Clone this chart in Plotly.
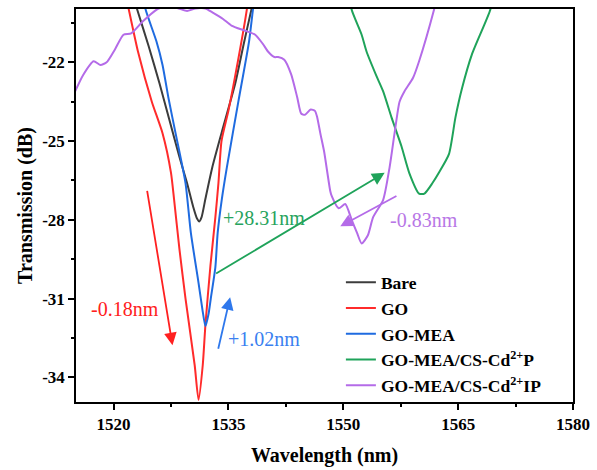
import plotly.graph_objects as go

# Transmission spectra (wavelength in nm, transmission in dB)
bare_x = [1522.6, 1523.1, 1524.6, 1526.0, 1527.3, 1528.6, 1529.6, 1530.4, 1530.9, 1531.2,
          1531.5, 1532.0, 1532.9, 1534.1, 1535.9, 1537.0, 1538.0, 1538.4]
bare_y = [-19.5, -20.0, -21.4, -22.8, -24.2, -25.6, -26.6, -27.5, -27.95, -28.06,
          -27.9, -27.2, -26.0, -24.7, -22.8, -21.3, -20.0, -19.5]

go_x = [1521.6, 1522.0, 1523.2, 1525.0, 1526.4, 1527.5, 1527.9, 1528.6, 1529.4, 1530.6,
        1531.1, 1531.65, 1532.0, 1532.65, 1533.3, 1533.7, 1534.1, 1535.0, 1535.9, 1537.4, 1537.6]
go_y = [-19.5, -20.0, -21.6, -23.5, -24.7, -26.2, -27.2, -29.1, -31.0, -33.54,
        -34.86, -33.54, -32.0, -29.76, -27.9, -26.6, -25.0, -23.85, -22.5, -20.0, -19.5]

gomea_x = [1523.9, 1524.2, 1525.6, 1526.4, 1527.2, 1528.1, 1529.4, 1530.1, 1531.1, 1531.6,
           1532.0, 1532.4, 1532.7, 1533.3, 1533.6, 1534.15, 1534.8, 1536.3, 1537.7, 1538.2, 1538.4]
gomea_y = [-19.5, -20.0, -21.2, -22.1, -23.4, -24.7, -26.6, -28.5, -30.4, -31.4,
           -32.05, -31.6, -31.0, -29.8, -28.5, -27.2, -26.0, -23.5, -21.2, -20.0, -19.5]

p_x = [1550.9, 1551.1, 1552.4, 1553.05, 1554.3, 1555.2, 1556.3, 1557.6, 1558.6, 1559.9,
       1560.6, 1561.65, 1562.5, 1563.8, 1564.65, 1565.5, 1566.8, 1569.2, 1569.4]
p_y = [-19.5, -20.0, -20.95, -21.6, -22.5, -23.1, -24.1, -25.2, -26.2, -27.0,
       -27.0, -26.6, -26.2, -25.5, -24.1, -23.0, -21.7, -20.0, -19.6]

ip_x = [1515.0, 1516.0, 1517.4, 1518.3, 1519.1, 1520.2, 1521.3, 1522.3, 1523.8, 1525.6,
        1527.0, 1528.5, 1529.6, 1530.7, 1532.0, 1532.9, 1534.3, 1535.4, 1537.2, 1538.5,
        1539.5, 1540.2, 1541.0, 1541.5, 1542.3, 1543.2, 1544.0, 1544.5, 1545.0, 1545.75,
        1546.3, 1546.6, 1547.0, 1547.5, 1548.3, 1548.5, 1549.4, 1550.26, 1551.1, 1551.8,
        1552.4, 1553.2, 1553.9, 1555.2, 1556.05, 1556.7, 1557.35, 1558.0, 1559.1, 1559.9,
        1561.85, 1562.1]
ip_y = [-23.1, -22.5, -21.96, -22.1, -22.0, -21.5, -20.95, -20.9, -20.45, -20.0,
        -19.85, -19.95, -20.05, -19.95, -19.95, -20.1, -20.35, -20.6, -20.8, -20.95,
        -21.3, -21.6, -21.8, -21.8, -21.9, -22.46, -23.35, -23.95, -24.0, -23.8,
        -23.85, -24.1, -24.7, -25.4, -26.9, -27.1, -27.56, -27.4, -28.0, -28.5,
        -28.9, -28.6, -27.9, -27.25, -26.0, -24.7, -23.5, -23.1, -22.6, -21.96,
        -20.0, -19.7]

series_names = ["Bare", "GO", "GO-MEA",
                "GO-MEA/CS-Cd<sup>2+</sup>P", "GO-MEA/CS-Cd<sup>2+</sup>IP"]
series_x = [bare_x, go_x, gomea_x, p_x, ip_x]
series_y = [bare_y, go_y, gomea_y, p_y, ip_y]
series_colors = ["#3c3c3c", "#ff2b2b", "#1f6be0", "#1fa35a", "#b46be8"]

# Axis ticks
x_ticks = [1520, 1535, 1550, 1565, 1580]
x_minor = [1527.5, 1542.5, 1557.5, 1572.5]
y_ticks = [-22, -25, -28, -31, -34]
y_tick_text = ["-22", "-25", "-28", "-31", "-34"]
y_minor = [-20.5, -23.5, -26.5, -29.5, -32.5]

# Shift arrows: (tail x, tail y, head x, head y) and their labels
shift_labels = ["-0.18nm", "+1.02nm", "+28.31nm", "-0.83nm"]
shift_tail_x = [1524.36, 1533.63, 1533.2, 1557.14]
shift_tail_y = [-26.84, -32.97, -30.08, -27.06]
shift_head_x = [1527.7, 1535.23, 1555.41, 1549.61]
shift_head_y = [-32.78, -30.95, -26.21, -28.25]
label_x = [1521.5, 1539.65, 1539.6, 1560.5]
label_y = [-31.4, -32.53, -27.92, -28.0]
arrow_colors = ["#ff2020", "#2f78ec", "#1fa35a", "#b46be8"]
label_colors = ["#ff2020", "#3a80f0", "#27a35d", "#b877e6"]

SERIF = "Times New Roman, Liberation Serif, serif"

fig = go.Figure()
for name, xs, ys, col in zip(series_names, series_x, series_y, series_colors):
    fig.add_trace(go.Scatter(
        x=xs, y=ys, mode="lines", name=name, legendgroup=name,
        line=dict(color=col, width=2, shape="spline", smoothing=0.6),
    ))

for i in range(len(shift_labels)):
    fig.add_annotation(
        x=shift_head_x[i], y=shift_head_y[i], ax=shift_tail_x[i], ay=shift_tail_y[i],
        xref="x", yref="y", axref="x", ayref="y", text="", showarrow=True,
        arrowhead=2, arrowsize=1.4, arrowwidth=1.8, arrowcolor=arrow_colors[i],
    )
    fig.add_annotation(
        x=label_x[i], y=label_y[i], xref="x", yref="y", text=shift_labels[i],
        showarrow=False, font=dict(family=SERIF, size=20, color=label_colors[i]),
    )

axis_common = dict(
    showline=True, linecolor="black", linewidth=1.5, mirror=True,
    ticks="outside", ticklen=6, tickwidth=1.5, tickcolor="black",
    showgrid=False, zeroline=False,
    tickfont=dict(family=SERIF, size=17, color="black", weight="bold"),
)

fig.update_layout(
    width=597, height=470,
    margin=dict(l=76, r=18, t=7, b=67),
    paper_bgcolor="white", plot_bgcolor="white",
    showlegend=True,
    legend=dict(
        x=0.533, y=0.35, xanchor="left", yanchor="top",
        bgcolor="rgba(0,0,0,0)", borderwidth=0, tracegroupgap=0,
        font=dict(family=SERIF, size=17.5, color="black", weight="bold"),
    ),
    xaxis=dict(
        range=[1515.1, 1580], tickvals=x_ticks,
        minor=dict(ticks="outside", ticklen=3.5, tickwidth=1.5, tickcolor="black",
                   tickvals=x_minor),
        title=dict(text="Wavelength (nm)", standoff=15,
                   font=dict(family=SERIF, size=20, color="black", weight="bold")),
        **axis_common,
    ),
    yaxis=dict(
        range=[-34.94, -19.97], tickvals=y_ticks, ticktext=y_tick_text,
        minor=dict(ticks="outside", ticklen=3.5, tickwidth=1.5, tickcolor="black",
                   tickvals=y_minor),
        title=dict(text="Transmission (dB)", standoff=4,
                   font=dict(family=SERIF, size=20, color="black", weight="bold")),
        **axis_common,
    ),
)

fig.write_html("out.html")
